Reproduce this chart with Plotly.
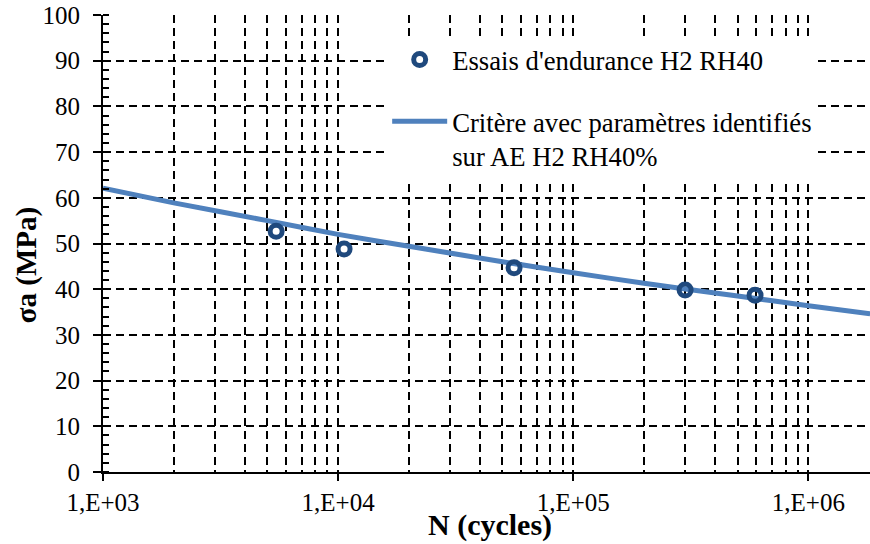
import plotly.graph_objects as go

# --- data ---
test_N = [5.45e3, 1.06e4, 5.6e4, 2.99e5, 5.93e5]
test_sigma = [52.7, 48.8, 44.7, 39.8, 38.7]

curve_N = [1e3, 2e3, 5e3, 1e4, 2e4, 5e4, 1e5, 2e5, 5e5, 1e6, 1.83e6]
curve_sigma = [62.1, 58.9, 55.0, 52.0, 49.4, 46.0, 43.6, 41.3, 38.5, 36.4, 34.6]

x_tickvals = [1e3, 1e4, 1e5, 1e6]
x_ticktext = ["1,E+03", "1,E+04", "1,E+05", "1,E+06"]
x_minorvals = [m * d for d in [1e3, 1e4, 1e5, 1e6] for m in range(2, 10)]

name_tests = "Essais d'endurance H2 RH40"
name_curve = "Critère avec paramètres identifiés<br>sur AE H2 RH40%"

FONT = "'Times New Roman', 'Liberation Serif', serif"
GRID = dict(gridcolor="black", gridwidth=2, griddash="8px,5px")

fig = go.Figure()
fig.add_trace(go.Scatter(
    x=curve_N, y=curve_sigma, mode="lines", name=name_curve,
    line=dict(color="#4F81BD", width=5, shape="spline", smoothing=0.6),
    legendgroup="b", legendrank=2,
))
fig.add_trace(go.Scatter(
    x=test_N, y=test_sigma, mode="markers", name=name_tests,
    marker=dict(symbol="circle-open", size=12, color="#1F497D",
                line=dict(width=5, color="#1F497D")),
    legendgroup="a", legendrank=1,
))

fig.update_layout(
    width=870, height=544,
    margin=dict(l=103, r=0, t=15, b=72, autoexpand=False),
    plot_bgcolor="white", paper_bgcolor="white",
    font=dict(family=FONT, size=25, color="black"),
    legend=dict(x=0.3705, y=0.955, xanchor="left", yanchor="top",
                bgcolor="white", borderwidth=0,
                font=dict(family=FONT, size=26.7, color="black"),
                itemwidth=55, valign="top", tracegroupgap=24),
    xaxis=dict(
        type="log", range=[3, 6.262], automargin=False,
        tickmode="array", tickvals=x_tickvals, ticktext=x_ticktext,
        showline=True, linecolor="black", linewidth=2,
        ticks="outside", ticklen=7, tickwidth=2, tickcolor="black",
        tickfont=dict(family=FONT, size=25, color="black"),
        showgrid=True, **GRID,
        minor=dict(tickmode="array", tickvals=x_minorvals, showgrid=True,
                   ticks="", **GRID),
        zeroline=False,
    ),
    yaxis=dict(
        range=[0, 100], dtick=10, automargin=False,
        showline=True, linecolor="black", linewidth=2,
        ticks="outside", ticklen=8, tickwidth=2, tickcolor="black",
        tickfont=dict(family=FONT, size=25, color="black"),
        ticklabelstandoff=8,
        showgrid=True, **GRID,
        minor=dict(dtick=2, ticks="inside", ticklen=6, tickwidth=2,
                   tickcolor="black", showgrid=False),
        zeroline=False,
    ),
    annotations=[
        dict(text="<b>σa (MPa)</b>", xref="paper", yref="paper",
             x=-0.0987, y=0.453, textangle=-90, showarrow=False,
             font=dict(family=FONT, size=29, color="black"),
             xanchor="center", yanchor="middle"),
        dict(text="<b>N (cycles)</b>", xref="paper", yref="paper",
             x=0.5048, y=-0.116, showarrow=False,
             font=dict(family=FONT, size=30, color="black"),
             xanchor="center", yanchor="middle"),
    ],
)

fig.write_html(
    "out.html",
    config={"displayModeBar": False},
    post_script="document.body.style.margin='0';document.body.style.padding='0';document.body.style.overflow='hidden';",
)
